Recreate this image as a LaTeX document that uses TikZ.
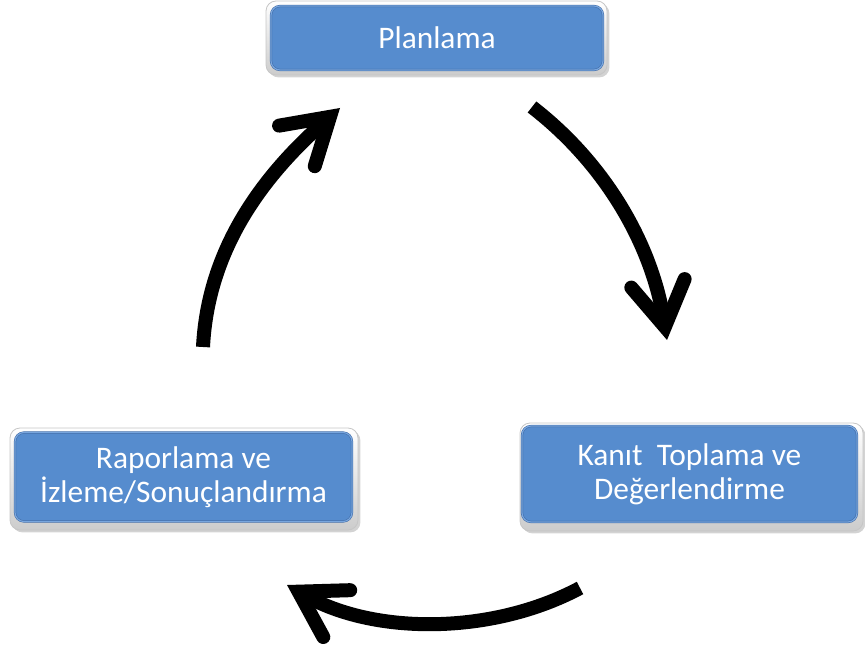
\documentclass[tikz,border=0pt]{standalone}
\usepackage{fontspec}
\setmainfont{Carlito}
\usetikzlibrary{arrows.meta,shadows}

\definecolor{boxblue}{RGB}{86,140,206}
\definecolor{boxedge}{RGB}{62,104,164}
\definecolor{boxlight}{RGB}{120,166,222}

\tikzset{
  frame/.style={rounded corners=5pt, draw=gray!45, line width=0.4pt,
    top color=white, bottom color=gray!40,
    drop shadow={shadow xshift=1.2pt, shadow yshift=-1.2pt, opacity=0.35, fill=gray}},
  button/.style={rounded corners=4.5pt, fill=boxblue, draw=boxedge, line width=1.1pt,
    text=white, align=center, inner sep=0pt,
    font=\fontsize{15.7pt}{17pt}\selectfont,
    postaction={draw=boxlight, line width=0.6pt, rounded corners=4pt}},
  cycle arrow/.style={line width=7pt, black,
    -{Straight Barb[length=22pt, width=27pt, line cap=round]}}
}

\begin{document}
\begin{tikzpicture}[x=0.5pt, y=-0.5pt]
  \useasboundingbox (0,0) rectangle (865,646);

  % outer bevel frames
  \node[frame, minimum width=170.5pt, minimum height=37pt] (planF) at (436.5,38) {};
  \node[frame, minimum width=174pt, minimum height=51pt] (raporF) at (184,479) {};
  \node[frame, minimum width=171.5pt, minimum height=54pt] (kanitF) at (691.5,477) {};

  % blue buttons with labels
  \node[button, minimum width=166pt, minimum height=32pt] (plan) at (437,38) {Planlama};
  \node[button, minimum width=168.5pt, minimum height=44.5pt] (rapor) at (183.5,477)
    {Raporlama ve\\İzleme/Sonuçlandırma};
  \node[button, minimum width=167.5pt, minimum height=48pt] (kanit) at (689.5,474)
    {Kanıt~~Toplama ve\\Değerlendirme};

  % free ends of the curved cycle arrows
  \coordinate (a1s) at (532,107);
  \coordinate (a1e) at (667,340);
  \coordinate (a2s) at (580,588);
  \coordinate (a2e) at (287,585);
  \coordinate (a3s) at (203,347);
  \coordinate (a3e) at (340,108);

  \draw[cycle arrow] (a1s) .. controls (607,165) and (652,246) .. (a1e);
  \draw[cycle arrow] (a2s) .. controls (492,635) and (374,635) .. (a2e);
  \draw[cycle arrow] (a3s) .. controls (208,247) and (265,174) .. (a3e);
\end{tikzpicture}
\end{document}
